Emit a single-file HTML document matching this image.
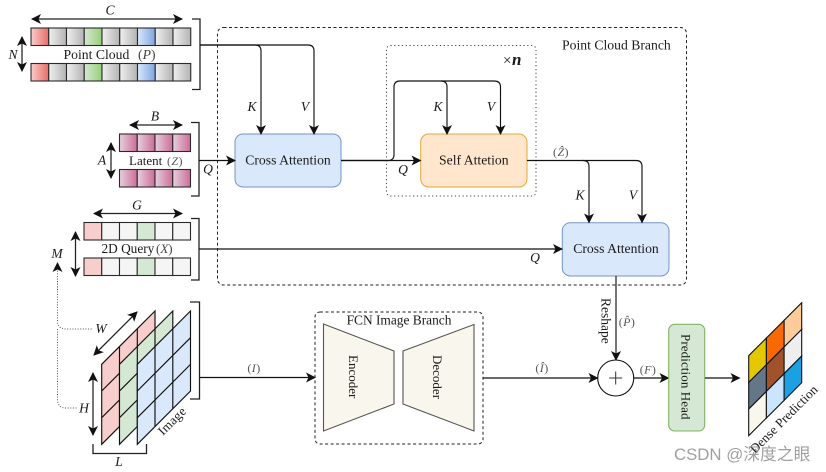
<!DOCTYPE html>
<html><head><meta charset="utf-8"><style>
html,body{margin:0;padding:0;background:#fff}
svg{display:block}
text{font-family:"Liberation Serif",serif;fill:#1a1a1a;font-size:13.7px}
.m{font-style:italic;font-size:13.5px}
.s{font-size:12px;fill:#555;letter-spacing:.4px}
.l{fill:none;stroke:#111;stroke-width:1.15}
.b{fill:none;stroke:#222;stroke-width:1.3}
.d{stroke:#222;stroke-width:1.25;fill:none}
.c{stroke:#2a2a2a;stroke-width:1.1}
</style></head><body>
<svg xmlns="http://www.w3.org/2000/svg" width="826" height="472" viewBox="0 0 826 472">
<defs>
<linearGradient id="r"><stop offset="0" stop-color="#f8cecc"/><stop offset="1" stop-color="#ea6b66"/></linearGradient>
<linearGradient id="g"><stop offset="0" stop-color="#f0f0f0"/><stop offset="1" stop-color="#b3b3b3"/></linearGradient>
<linearGradient id="n"><stop offset="0" stop-color="#d5e8d4"/><stop offset="1" stop-color="#97d077"/></linearGradient>
<linearGradient id="u"><stop offset="0" stop-color="#dae8fc"/><stop offset="1" stop-color="#7ea6e0"/></linearGradient>
<linearGradient id="p"><stop offset="0" stop-color="#e6d0de"/><stop offset="1" stop-color="#cd6c98"/></linearGradient>
<marker id="a" viewBox="0 0 10 10" refX="9" refY="5" markerWidth="10" markerHeight="10" markerUnits="userSpaceOnUse" orient="auto-start-reverse"><path d="M0 0L10 5L0 10L2.5 5Z" fill="#111"/></marker>
<g id="pc" class="c"><rect x="31" width="17.75" height="17.5" fill="url(#r)"/><rect x="48.75" width="17.75" height="17.5" fill="url(#g)"/><rect x="66.5" width="17.75" height="17.5" fill="url(#g)"/><rect x="84.25" width="17.75" height="17.5" fill="url(#n)"/><rect x="102" width="17.75" height="17.5" fill="url(#g)"/><rect x="119.75" width="17.75" height="17.5" fill="url(#g)"/><rect x="137.5" width="17.75" height="17.5" fill="url(#u)"/><rect x="155.25" width="17.75" height="17.5" fill="url(#g)"/><rect x="173" width="17.75" height="17.5" fill="url(#g)"/></g>
<g id="lt" class="c"><rect x="119.5" width="17.75" height="17.5" fill="url(#p)"/><rect x="137.25" width="17.75" height="17.5" fill="url(#p)"/><rect x="155" width="17.75" height="17.5" fill="url(#p)"/><rect x="172.75" width="17.75" height="17.5" fill="url(#p)"/></g>
<g id="qr" class="c"><rect x="84" width="17.75" height="17.5" fill="#f8cecc"/><rect x="101.75" width="17.75" height="17.5" fill="#f5f5f5"/><rect x="119.5" width="17.75" height="17.5" fill="#f5f5f5"/><rect x="137.25" width="17.75" height="17.5" fill="#d5e8d4"/><rect x="155" width="17.75" height="17.5" fill="#f5f5f5"/><rect x="172.75" width="17.75" height="17.5" fill="#f5f5f5"/></g>
</defs>

<!-- branch boxes -->
<rect x="217.500" y="27.500" width="469" height="257.500" rx="6" fill="none" stroke="#222" stroke-dasharray="3 2.5"/>
<rect x="386.500" y="45.500" width="149.500" height="150.500" rx="4" fill="none" stroke="#444" stroke-dasharray="1.2 2.6"/>
<rect x="315" y="312" width="168" height="132" rx="5" fill="none" stroke="#222" stroke-dasharray="3 2.5"/>
<text x="562" y="49.500">Point Cloud Branch</text>
<text x="503" y="65" style="font-size:15px">×</text>
<text x="512" y="65" style="font-size:17px;font-weight:bold;font-style:italic">n</text>

<!-- point cloud -->
<use href="#pc" y="28"/><use href="#pc" y="63.500"/>
<line x1="32" y1="19" x2="182" y2="19" class="d" marker-start="url(#a)" marker-end="url(#a)"/>
<text x="110" y="14.500" text-anchor="middle" class="m">C</text>
<line x1="22" y1="37" x2="22" y2="71" class="d" marker-start="url(#a)" marker-end="url(#a)"/>
<text x="13" y="59" text-anchor="middle" class="m">N</text>
<text x="63.500" y="59">Point Cloud</text>
<text x="138" y="59" style="fill:#444">(<tspan font-style="italic">P</tspan>)</text>
<path d="M192 19H200V89.500H192" class="b"/>

<!-- latent -->
<use href="#lt" y="134"/><use href="#lt" y="169.500"/>
<line x1="130" y1="125" x2="182" y2="125" class="d" marker-start="url(#a)" marker-end="url(#a)"/>
<text x="155" y="120.500" text-anchor="middle" class="m">B</text>
<line x1="111" y1="143" x2="111" y2="178" class="d" marker-start="url(#a)" marker-end="url(#a)"/>
<text x="102" y="164.500" text-anchor="middle" class="m">A</text>
<text x="129" y="165" style="font-size:13px">Latent</text>
<text x="167" y="165" class="s">(<tspan font-style="italic">Z</tspan>)</text>
<path d="M191 122.500H199V196H191" class="b"/>

<!-- query -->
<use href="#qr" y="222.500"/><use href="#qr" y="258"/>
<line x1="94" y1="213.500" x2="182" y2="213.500" class="d" marker-start="url(#a)" marker-end="url(#a)"/>
<text x="137" y="209.500" text-anchor="middle" class="m">G</text>
<line x1="75.500" y1="232" x2="75.500" y2="276" class="d" marker-start="url(#a)" marker-end="url(#a)"/>
<text x="57" y="258" text-anchor="middle" class="m">M</text>
<text x="101.500" y="253" style="font-size:13.300px">2D Query</text>
<text x="156" y="253" style="font-size:13px;fill:#444">(<tspan font-style="italic">X</tspan>)</text>
<path d="M191 218.500H199V280H191" class="b"/>

<!-- image -->
<g stroke="#111" stroke-width="1.150">
<path d="M101.700 444.300V364.300L155 311V391Z" fill="#f8cecc"/>
<path d="M101.700 391L155 337.700M101.700 417.700L155 364.400M119.500 346.500V426.500M137.300 328.700V408.700" fill="none"/>
<path d="M119.500 444.300V364.300L172.800 311V391Z" fill="#d5e8d4"/>
<path d="M119.500 391L172.800 337.700M119.500 417.700L172.800 364.400M137.300 346.500V426.500M155 328.700V408.700" fill="none"/>
<path d="M137.300 444.300V364.300L190.500 311V391Z" fill="#dae8fc"/>
<path d="M137.300 391L190.500 337.700M137.300 417.700L190.500 364.400M155 346.500V426.500M172.800 328.700V408.700" fill="none"/>
</g>
<line x1="94" y1="355" x2="137" y2="312" class="d" marker-start="url(#a)" marker-end="url(#a)"/>
<line x1="93" y1="373" x2="93" y2="435" class="d" marker-start="url(#a)" marker-end="url(#a)"/>
<text x="101" y="333" text-anchor="middle" class="m">W</text>
<text x="84" y="412.500" text-anchor="middle" class="m">H</text>
<path d="M93 444V453.500H146.500V444" class="b"/>
<text x="119" y="466" text-anchor="middle" class="m">L</text>
<text transform="translate(163 436) rotate(-45)" style="font-size:13px;letter-spacing:.3px">Image</text>
<path d="M190 302H199.500V399H190" class="b"/>
<path d="M57.500 281V322Q58 329 66 329H93M57.500 329V400Q58 408 66 408H77" fill="none" stroke="#555" stroke-dasharray="1 1.6"/>
<line x1="57.500" y1="290" x2="57.500" y2="263" fill="none" stroke="#555" stroke-dasharray="1 1.6" marker-end="url(#a)"/>

<!-- FCN -->
<text x="399" y="324.500" text-anchor="middle" style="font-size:13.400px">FCN Image Branch</text>
<path d="M323.500 324L394 351V404L323.500 431Z" fill="#f9f7ed" stroke="#555" stroke-width="1.100"/>
<path d="M403 351L474 324.500V431L403 404Z" fill="#f9f7ed" stroke="#555" stroke-width="1.100"/>
<text transform="translate(349 355) rotate(90)" style="font-size:13px">Encoder</text>
<text transform="translate(433 355) rotate(90)" style="font-size:13px">Decoder</text>

<!-- attention boxes -->
<rect x="235" y="134" width="106" height="53" rx="8" fill="#dae8fc" stroke="#7395c7"/>
<text x="288" y="164.500" text-anchor="middle">Cross Attention</text>
<rect x="420.700" y="134" width="106.300" height="53" rx="8" fill="#ffe6cc" stroke="#e0a93a"/>
<text x="473.800" y="164.500" text-anchor="middle">Self Attetion</text>
<rect x="562.300" y="222.700" width="106.700" height="53.300" rx="8" fill="#dae8fc" stroke="#7395c7"/>
<text x="616" y="253" text-anchor="middle">Cross Attention</text>

<!-- connectors -->
<path d="M200 45H255Q261 45 261 51V134" class="l" marker-end="url(#a)"/>
<path d="M200 45H308Q314 45 314 51V134" class="l" marker-end="url(#a)"/>
<text x="252" y="111" text-anchor="middle" class="m">K</text>
<text x="305" y="111" text-anchor="middle" class="m">V</text>
<line x1="199" y1="160.500" x2="235" y2="160.500" class="l" marker-end="url(#a)"/>
<text x="208" y="173.500" text-anchor="middle" class="m">Q</text>
<line x1="199" y1="249" x2="562" y2="249" class="l" marker-end="url(#a)"/>
<text x="535" y="262" text-anchor="middle" class="m">Q</text>
<line x1="341" y1="160.500" x2="420.500" y2="160.500" class="l" stroke-width="1.400" marker-end="url(#a)"/>
<path d="M341 160.500H388Q394 160.500 394 154.500V87Q394 81 400 81H441Q447 81 447 87V134" class="l" stroke-width="1.300" marker-end="url(#a)"/>
<path d="M441 81H494Q500.500 81 500.500 87V134" class="l" marker-end="url(#a)"/>
<text x="438" y="111" text-anchor="middle" class="m">K</text>
<text x="491" y="111" text-anchor="middle" class="m">V</text>
<text x="403" y="174" text-anchor="middle" class="m">Q</text>
<path d="M527 160.500H583Q589 160.500 589 166.500V222.500" class="l" marker-end="url(#a)"/>
<path d="M583 160.500H636Q642 160.500 642 166.500V222.500" class="l" marker-end="url(#a)"/>
<text x="561" y="156" text-anchor="middle" class="s">(<tspan font-style="italic">Ẑ</tspan>)</text>
<text x="580" y="199.500" text-anchor="middle" class="m">K</text>
<text x="633" y="199.500" text-anchor="middle" class="m">V</text>
<line x1="616" y1="276" x2="616" y2="360" class="l" marker-end="url(#a)"/>
<text transform="translate(601.300 298) rotate(90)" style="font-size:13.500px">Reshape</text>
<text x="627" y="326" text-anchor="middle" class="s">(<tspan font-style="italic">P̂</tspan>)</text>
<circle cx="615.700" cy="378" r="18" fill="#fff" stroke="#111" stroke-width="1.100"/>
<path d="M609.200 378H622.200M615.700 371.500V384.500" stroke="#333" stroke-width="1"/>
<line x1="199.500" y1="377.500" x2="315" y2="377.500" class="l" marker-end="url(#a)"/>
<text x="254" y="372" text-anchor="middle" class="s">(<tspan font-style="italic">I</tspan>)</text>
<line x1="483" y1="378" x2="597.500" y2="378" class="l" marker-end="url(#a)"/>
<text x="542" y="372" text-anchor="middle" class="s">(<tspan font-style="italic">Î</tspan>)</text>
<line x1="634" y1="378" x2="668.500" y2="378" class="l" marker-end="url(#a)"/>
<text x="648" y="373.500" text-anchor="middle" class="s">(<tspan font-style="italic">F</tspan>)</text>

<!-- head -->
<rect x="668.700" y="324.300" width="36" height="106.700" rx="6" fill="#d5e8d4" stroke="#82b366" stroke-width="1.100"/>
<text transform="translate(681.500 334) rotate(90)" style="font-size:13px;letter-spacing:.1px">Prediction Head</text>
<line x1="705" y1="378" x2="739.500" y2="378" class="l" marker-end="url(#a)"/>

<!-- dense prediction -->
<g stroke="#111" stroke-width="1.100">
<path d="M748.700 355.700L766.400 338V364.700L748.700 382.400Z" fill="#e3c800"/>
<path d="M766.400 338L784.100 320.300V347L766.400 364.700Z" fill="#fa6800"/>
<path d="M784.100 320.300L801.700 302.700V329.400L784.100 347Z" fill="#ffcc99"/>
<path d="M748.700 382.400L766.400 364.700V391.400L748.700 409.100Z" fill="#647687"/>
<path d="M766.400 364.700L784.100 347V373.700L766.400 391.400Z" fill="#a0522d"/>
<path d="M784.100 347L801.700 329.400V356L784.100 373.700Z" fill="#eeeeee"/>
<path d="M748.700 409.100L766.400 391.400V418L748.700 435.700Z" fill="#f9f7ed"/>
<path d="M766.400 391.400L784.100 373.700V400.400L766.400 418Z" fill="#cce5ff"/>
<path d="M784.100 373.700L801.700 356V382.700L784.100 400.400Z" fill="#1ba1e2"/>
</g>
<text transform="translate(755 454) rotate(-45)" style="font-size:13.100px">Dense Prediction</text>

<!-- watermark -->
<text x="674" y="460" style="font-family:'Liberation Sans','Noto Sans CJK SC',sans-serif;font-size:16.800px;fill:#8f8f8f;opacity:.85">CSDN @深度之眼</text>
</svg>
</body></html>
